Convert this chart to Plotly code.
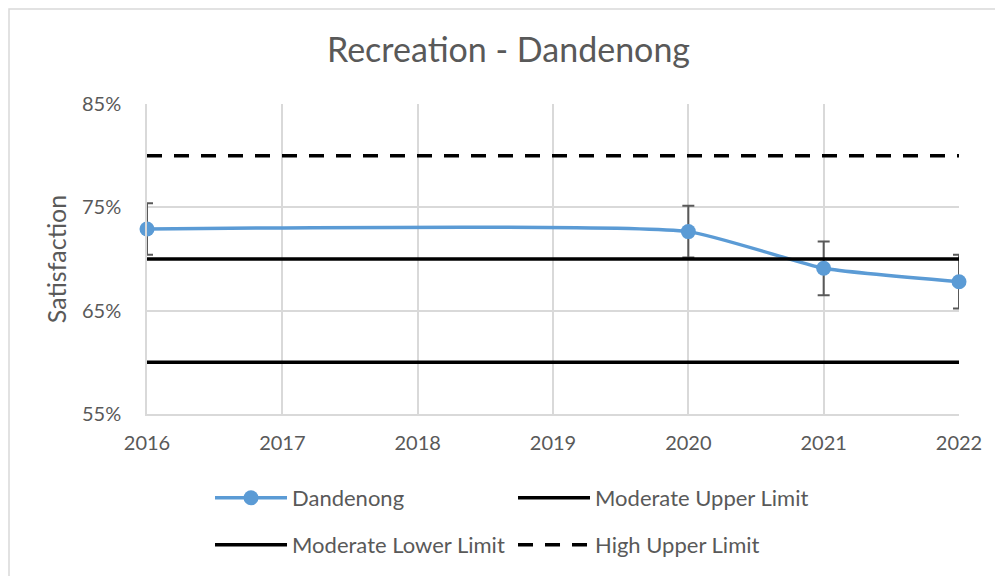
import plotly.graph_objects as go

years = [2016, 2020, 2021, 2022]
dandenong = [72.9, 72.65, 69.1, 67.8]
dandenong_err = [2.5, 2.5, 2.6, 2.6]

limit_years = [2016, 2022]
moderate_upper = [70, 70]
moderate_lower = [60, 60]
high_upper = [80, 80]

tick_vals = [55, 65, 75, 85]
tick_text = ["55%", "65%", "75%", "85%"]
x_ticks = [2016, 2017, 2018, 2019, 2020, 2021, 2022]

text_grey = "#595959"
grid_grey = "#d9d9d9"
font_family = "Lato, 'Open Sans', sans-serif"

fig = go.Figure()

fig.add_trace(go.Scatter(
    x=years, y=dandenong, name="Dandenong", legend="legend",
    mode="lines+markers", cliponaxis=False,
    line=dict(color="#5b9bd5", width=3.5, shape="spline", smoothing=0.45),
    marker=dict(size=15, color="#5b9bd5"),
    error_y=dict(type="data", array=dandenong_err, visible=True,
                 color=text_grey, thickness=2, width=6),
))
fig.add_trace(go.Scatter(
    x=limit_years, y=moderate_upper, name="Moderate Upper Limit", legend="legend",
    mode="lines", line=dict(color="black", width=3.5),
))
fig.add_trace(go.Scatter(
    x=limit_years, y=moderate_lower, name="Moderate Lower Limit", legend="legend2",
    mode="lines", line=dict(color="black", width=3.5),
))
fig.add_trace(go.Scatter(
    x=limit_years, y=high_upper, name="High Upper Limit", legend="legend2",
    mode="lines", line=dict(color="black", width=3.5, dash="15px,12px"),
))

# the page body adds ~7px offset, so margins are nudged up/left
legend_style = dict(orientation="h", x=0.0776, xanchor="left", yanchor="middle",
                    entrywidth=216, entrywidthmode="pixels", itemwidth=72,
                    font=dict(size=22, color=text_grey, family=font_family),
                    bgcolor="rgba(0,0,0,0)")

fig.update_layout(
    width=1003, height=576,
    paper_bgcolor="white", plot_bgcolor="white",
    margin=dict(l=139, r=52, t=96, b=170, autoexpand=False),
    font=dict(family=font_family, color=text_grey, size=20),
    title=dict(text="Recreation - Dandenong", x=0.499, xanchor="center",
               y=0.927, yanchor="middle",
               font=dict(size=34, color=text_grey, family=font_family)),
    showlegend=True,
    legend=dict(legend_style, y=-0.271),
    legend2=dict(legend_style, y=-0.4226),
    shapes=[dict(type="rect", xref="paper", yref="paper",
                 x0=-138 / 812, x1=1.2, y0=-0.6, y1=(310 + 95) / 310,
                 line=dict(color=grid_grey, width=1.5))],
)

fig.update_xaxes(
    range=[2016, 2022], tickvals=x_ticks, showgrid=True, gridcolor=grid_grey,
    gridwidth=1.5, showline=True, linecolor=grid_grey, linewidth=1.5,
    ticks="", ticklabelstandoff=10, automargin=False,
    tickfont=dict(size=20, color=text_grey), zeroline=False,
)
fig.update_yaxes(
    range=[55, 85], tickvals=tick_vals, ticktext=tick_text, showgrid=True,
    gridcolor=grid_grey, gridwidth=1.5, showline=True, linecolor=grid_grey,
    linewidth=1.5, ticks="", ticklabelstandoff=20, automargin=False,
    tickfont=dict(size=20, color=text_grey), zeroline=False,
    title=dict(text="Satisfaction", font=dict(size=25, color=text_grey), standoff=8),
)

fig.write_html("out.html")
